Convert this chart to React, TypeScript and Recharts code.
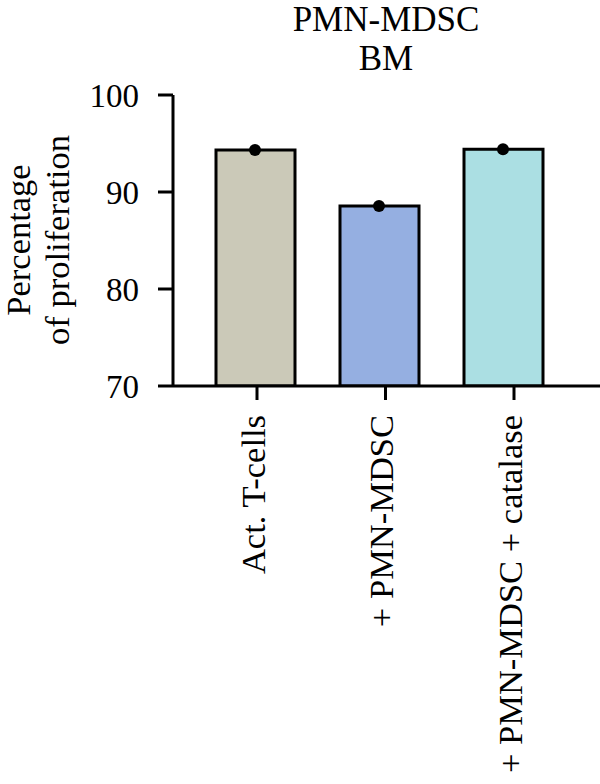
import React from "react";
import { ComposedChart, Bar, Line, XAxis, YAxis, Cell, Label } from "recharts";

const categories = ["Act.  T-cells", "+ PMN-MDSC", "+ PMN-MDSC + catalase"];
const values = [94.33, 88.56, 94.4];
const barColors = ["#cbc9b8", "#95afe1", "#abdfe3"];
const yTicks = [70, 80, 90, 100];
const titleLines = ["PMN-MDSC", "BM"];
const yLabelLines = ["Percentage", "of proliferation"];

const data = categories.map((c, i) => ({ name: c, value: values[i] }));

const FONT = "'Liberation Serif', 'Times New Roman', serif";

const XTick = (props: any) => {
  const { x, y, payload } = props;
  return (
    <text
      transform={`translate(${x},${y}) rotate(-90)`}
      textAnchor="end"
      dy="0.22em"
      fontFamily={FONT}
      fontSize={34.5}
      fill="#000"
    >
      {payload.value}
    </text>
  );
};

const YLabel = () => (
  <g>
    <text
      transform={`translate(30,240) rotate(-90)`}
      textAnchor="middle"
      fontFamily={FONT}
      fontSize={34.5}
      fill="#000"
    >
      {yLabelLines[0]}
    </text>
    <text
      transform={`translate(69,240) rotate(-90)`}
      textAnchor="middle"
      fontFamily={FONT}
      fontSize={34.5}
      fill="#000"
    >
      {yLabelLines[1]}
    </text>
  </g>
);

const titleTops = [2, 41];

export default function App() {
  return (
    <div style={{ position: "absolute", left: 0, top: 0, width: 600, height: 784, background: "#fff", overflow: "hidden" }}>
      <ComposedChart
        width={600}
        height={784}
        data={data}
        margin={{ top: 95, right: 0, bottom: 0, left: 0 }}
        style={{ position: "absolute", left: 0, top: 0 }}
      >
        <XAxis xAxisId="bars" dataKey="name" type="category" hide height={0} padding={{ left: 20, right: 35 }} />
        <XAxis
          xAxisId="ticks"
          dataKey="name"
          type="category"
          height={398}
          padding={{ left: 19.75, right: 21.75 }}
          axisLine={{ stroke: "#000", strokeWidth: 3 }}
          tickLine={{ stroke: "#000", strokeWidth: 3 }}
          tickSize={14}
          tickMargin={15}
          tick={<XTick />}
          interval={0}
        />
        <YAxis
          domain={[70, 100]}
          ticks={yTicks}
          width={173}
          axisLine={{ stroke: "#000", strokeWidth: 3 }}
          tickLine={{ stroke: "#000", strokeWidth: 3 }}
          tickSize={15}
          tickMargin={19}
          tick={{ fontFamily: FONT, fontSize: 33, fill: "#000" }}
          allowDataOverflow
        >
          <Label content={<YLabel />} />
        </YAxis>
        <Bar xAxisId="bars" dataKey="value" barSize={79} stroke="#000" strokeWidth={3} isAnimationActive={false}>
          {data.map((d, i) => (
            <Cell key={d.name} fill={barColors[i]} />
          ))}
        </Bar>
        <Line
          xAxisId="bars"
          dataKey="value"
          stroke="none"
          dot={{ r: 6, fill: "#000", stroke: "none" }}
          activeDot={false}
          isAnimationActive={false}
        />
      </ComposedChart>
      {titleLines.map((t, i) => (
        <div
          key={t}
          style={{
            position: "absolute",
            left: 236,
            width: 300,
            top: titleTops[i],
            textAlign: "center",
            fontFamily: FONT,
            fontSize: 35,
            lineHeight: "35px",
            color: "#000",
          }}
        >
          {t}
        </div>
      ))}
    </div>
  );
}
